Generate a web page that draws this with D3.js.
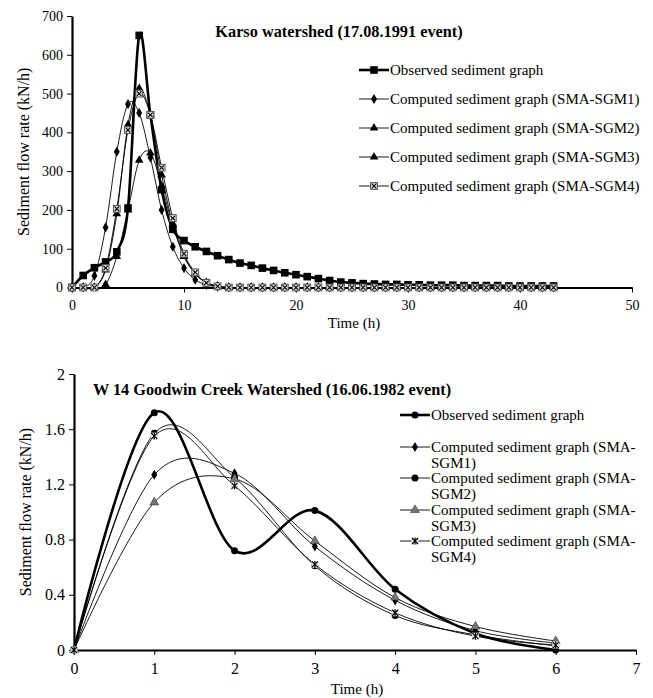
<!DOCTYPE html>
<html>
<head>
<meta charset="utf-8">
<script src="https://cdn.jsdelivr.net/npm/d3@7"></script>
<style>
  body { margin: 0; background: #fff; }
  svg, svg text { font-family: "Times New Roman", "Liberation Serif", serif !important; }
  svg text { fill: #000; }
  .axis path, .axis line { stroke: #000; }
</style>
</head>
<body>
<svg id="chart" width="653" height="698" font-family="Liberation Serif"></svg>
<script>
// ---- Karso watershed (17.08.1991 event) ----
var karsoHours = [0,1,2,3,4,5,6,7,8,9,10,11,12,13,14,15,16,17,18,19,20,21,
  22,23,24,25,26,27,28,29,30,31,32,33,34,35,36,37,38,39,40,41,42,43];
var karsoObserved = [0,31,51,66,92,205,650,445,252,150,121,105,93,82,72,63,57,50,44,38,33,28,
  23,18,14,12,10,9,8,8,7,7,6,6,6,5,5,5,5,4,4,4,4,4];
var karsoSGM1 = [0,0,30,155,350,473,450,335,200,105,50,20,7,2,0,0,0,0,0,0,0,0,
  0,0,0,0,0,0,0,0,0,0,0,0,0,0,0,0,0,0,0,0,0,0];
var karsoSGM2 = [0,0,0,45,190,420,513,445,290,165,80,35,12,3,0,0,0,0,0,0,0,0,
  0,0,0,0,0,0,0,0,0,0,0,0,0,0,0,0,0,0,0,0,0,0];
var karsoSGM3 = [0,0,0,8,80,200,328,347,262,160,82,36,13,4,0,0,0,0,0,0,0,0,
  0,0,0,0,0,0,0,0,0,0,0,0,0,0,0,0,0,0,0,0,0,0];
var karsoSGM4 = [0,0,0,50,203,406,500,445,309,179,87,39,12,3,0,0,0,0,0,0,0,0,
  0,0,0,0,0,0,0,0,0,0,0,0,0,0,0,0,0,0,0,0,0,0];
var karsoXTicks = [0,10,20,30,40,50];
var karsoYTicks = [0,100,200,300,400,500,600,700];

// ---- W 14 Goodwin Creek Watershed (16.06.1982 event) ----
var goodwinHours = [0,1,2,3,4,5,6];
var goodwinObserved = [0,1.72,0.72,1.01,0.44,0.12,0];
var goodwinSGM1 = [0,1.27,1.28,0.75,0.36,0.14,0.05];
var goodwinSGM2 = [0,1.57,1.25,0.61,0.25,0.11,0.03];
var goodwinSGM3 = [0,1.07,1.24,0.79,0.38,0.17,0.065];
var goodwinSGM4 = [0,1.55,1.19,0.62,0.27,0.10,0.036];
var goodwinXTicks = [0,1,2,3,4,5,6,7];
var goodwinYTicks = [0,0.4,0.8,1.2,1.6,2];

var names = ["Observed sediment graph",
  "Computed sediment graph (SMA-SGM1)",
  "Computed sediment graph (SMA-SGM2)",
  "Computed sediment graph (SMA-SGM3)",
  "Computed sediment graph (SMA-SGM4)"];

var svg = d3.select("#chart");

// marker drawing, one kind per series
function marker (g, kind) {
  if (kind === "square") {
    g.append("rect").attr("x", -3.8).attr("y", -3.8).attr("width", 7.6).attr("height", 7.6).attr("fill", "#000");
  } else if (kind === "diamond") {
    g.append("path").attr("d", d3.symbol(d3.symbolDiamond, 30)()).attr("fill", "#000");
  } else if (kind === "triangle") {
    g.append("path").attr("d", d3.symbol(d3.symbolTriangle, 32)()).attr("fill", "#000");
  } else if (kind === "grayTriangle") {
    g.append("path").attr("d", d3.symbol(d3.symbolTriangle, 34)()).attr("fill", "#777").attr("stroke", "#333").attr("stroke-width", 0.6);
  } else if (kind === "circle") {
    g.append("circle").attr("r", 3.5).attr("fill", "#000");
  } else if (kind === "xbox") {
    g.append("rect").attr("x", -3.4).attr("y", -3.4).attr("width", 6.8).attr("height", 6.8)
      .attr("fill", "#ddd").attr("stroke", "#555").attr("stroke-width", 1);
    g.append("path").attr("d", "M-2.3,-2.3L2.3,2.3M2.3,-2.3L-2.3,2.3").attr("stroke", "#000").attr("stroke-width", 1.1);
  } else if (kind === "star") {
    g.append("rect").attr("x", -3.5).attr("y", -3.5).attr("width", 7).attr("height", 7).attr("fill", "#ddd");
    g.append("path").attr("d", "M-3,-3L3,3M3,-3L-3,3M0,-3.5L0,3.5").attr("stroke", "#000").attr("stroke-width", 1.1);
  }
}

function panel (opts) {
  var x = d3.scaleLinear().domain(opts.xDomain).range(opts.xRange),
      y = d3.scaleLinear().domain(opts.yDomain).range(opts.yRange),
      g = svg.append("g");

  g.append("g")
    .attr("class", "axis")
    .attr("transform", "translate(0," + opts.yRange[0] + ")")
    .call(d3.axisBottom(x).tickValues(opts.xTicks).tickSize(5).tickSizeOuter(0).tickFormat(d3.format("d")))
    .call(function (a) {
      a.attr("font-family", null);
      a.select(".domain").attr("stroke-width", 2.2);
      a.selectAll("text").attr("font-size", opts.tickFont).attr("dy", "1.0em");
    });

  g.append("g")
    .attr("class", "axis")
    .attr("transform", "translate(" + opts.xRange[0] + ",0)")
    .call(d3.axisLeft(y).tickValues(opts.yTicks).tickSize(5).tickSizeOuter(0).tickFormat(opts.yFormat))
    .call(function (a) {
      a.attr("font-family", null);
      a.select(".domain").attr("stroke-width", 2.2);
      a.selectAll("text").attr("font-size", opts.tickFont).attr("x", -9);
    });

  var line = d3.line()
    .x(function (d) { return x(d[0]); })
    .y(function (d) { return y(d[1]); })
    .curve(d3.curveCardinal.tension(0));

  opts.series.forEach(function (s, i) {
    var pts = opts.hours.map(function (h, j) { return [h, s[j]]; });
    g.append("path")
      .attr("d", line(pts))
      .attr("fill", "none")
      .attr("stroke", "#000")
      .attr("stroke-width", i === 0 ? 2.6 : 0.9);
    g.selectAll(null)
      .data(pts)
    .enter().append("g")
      .attr("transform", function (d) { return "translate(" + x(d[0]) + "," + y(d[1]) + ")"; })
      .each(function () { marker(d3.select(this), opts.markers[i]); });
  });

  // titles
  g.append("text")
    .attr("x", opts.title[1]).attr("y", opts.title[2])
    .attr("text-anchor", "middle").attr("font-weight", "bold").attr("font-size", 16.3)
    .text(opts.title[0]);
  g.append("text")
    .attr("x", (opts.xRange[0] + opts.xRange[1]) / 2 + 2).attr("y", opts.xTitleY)
    .attr("text-anchor", "middle").attr("font-size", 15)
    .text("Time (h)");
  g.append("text")
    .attr("transform", "translate(" + opts.yTitleX + "," + (opts.yRange[0] + opts.yRange[1]) / 2 + ") rotate(-90)")
    .attr("text-anchor", "middle").attr("font-size", 16)
    .text("Sediment flow rate (kN/h)");

  // legend
  var lg = g.append("g").selectAll("g")
    .data(names)
  .enter().append("g")
    .attr("transform", function (d, i) { return "translate(" + opts.legend.x + "," + opts.legend.rows[i] + ")"; });
  lg.append("line").attr("x1", 0).attr("x2", 30)
    .attr("stroke", "#000").attr("stroke-width", function (d, i) { return i === 0 ? 2.6 : 0.9; });
  lg.each(function (d, i) {
    var m = d3.select(this).append("g").attr("transform", "translate(15,0)");
    marker(m, opts.markers[i]);
  });
  var t = lg.append("text").attr("x", 31).attr("dy", "0.33em").attr("font-size", 15);
  if (opts.legend.wrap) {
    t.each(function (d, i) {
      var el = d3.select(this);
      if (i === 0) { el.text(d); return; }
      el.append("tspan").attr("x", 31).text(d.slice(0, d.indexOf("-") + 1));
      el.append("tspan").attr("x", 31).attr("dy", "1.1em").text(d.slice(d.indexOf("-") + 1));
    });
  } else {
    t.text(function (d) { return d; });
  }
}

panel({
  hours: karsoHours,
  series: [karsoObserved, karsoSGM1, karsoSGM2, karsoSGM3, karsoSGM4],
  markers: ["square", "diamond", "triangle", "triangle", "xbox"],
  xDomain: [0, 50], xRange: [72, 632],
  yDomain: [0, 700], yRange: [287.5, 16],
  xTicks: karsoXTicks, yTicks: karsoYTicks,
  yFormat: d3.format("d"),
  tickFont: 14,
  title: ["Karso watershed (17.08.1991 event)", 339, 37],
  xTitleY: 328, yTitleX: 29,
  legend: { x: 359, rows: [70, 99, 128, 157, 186], wrap: false }
});

panel({
  hours: goodwinHours,
  series: [goodwinObserved, goodwinSGM1, goodwinSGM2, goodwinSGM3, goodwinSGM4],
  markers: ["circle", "diamond", "circle", "grayTriangle", "star"],
  xDomain: [0, 7], xRange: [74, 636],
  yDomain: [0, 2], yRange: [650, 374],
  xTicks: goodwinXTicks, yTicks: goodwinYTicks,
  yFormat: function (d) { return d === 0 || d === 2 ? d : d3.format(".1f")(d); },
  tickFont: 16,
  title: ["W 14 Goodwin Creek Watershed (16.06.1982 event)", 272, 395],
  xTitleY: 694, yTitleX: 31,
  legend: { x: 400, rows: [415, 447, 478, 510, 541], wrap: true }
});
</script>
</body>
</html>
